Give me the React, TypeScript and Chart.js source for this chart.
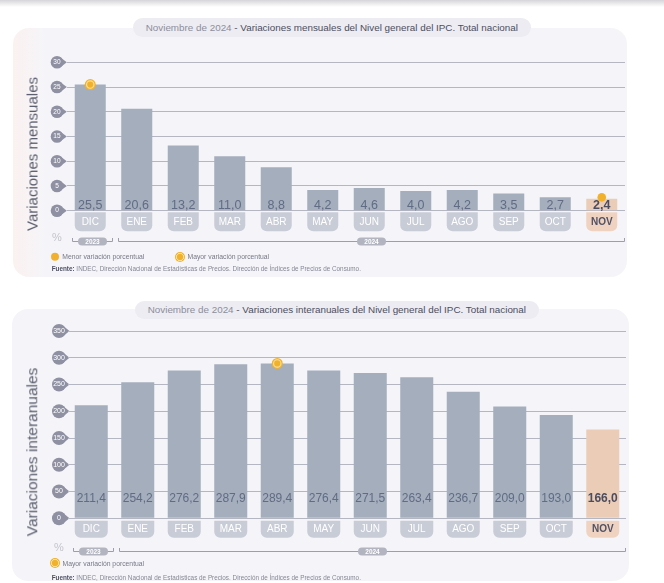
import React, { useEffect, useRef } from 'react';
import { Chart, registerables } from 'chart.js';

Chart.register(...registerables);

const FONT = '"Liberation Sans", Arial, Helvetica, sans-serif';

// ---- data ----
const MONTHS = ['DIC', 'ENE', 'FEB', 'MAR', 'ABR', 'MAY', 'JUN', 'JUL', 'AGO', 'SEP', 'OCT', 'NOV'];
const MONTHLY_VALUES = [25.5, 20.6, 13.2, 11.0, 8.8, 4.2, 4.6, 4.0, 4.2, 3.5, 2.7, 2.4];
const YEARLY_VALUES = [211.4, 254.2, 276.2, 287.9, 289.4, 276.4, 271.5, 263.4, 236.7, 209.0, 193.0, 166.0];
const YEAR_LABELS = ['2023', '2024'];
const YEAR_START = [0, 1];
const YEAR_END = [0, 11];
const MONTHLY_TICKS = { min: 0, max: 30, step: 5 };
const YEARLY_TICKS = { min: 0, max: 350, step: 50 };

// ---- colours ----
const BAR = '#a4aebd';
const BAR_HL = '#ebcdb7';
const TAB = '#c8ccd6';
const TAB_HL = '#efd3c0';
const ORANGE = '#f2b12c';
const VALUE_COLOR = '#616c84';
const VALUE_HL = '#4b4c60';

const fmt = (v: number) => v.toFixed(1).replace('.', ',');

type Cfg = {
  circleX: number;
  circleR: number;
  tabTop: number;
  tabH: number;
  tabR: number;
  bracketDy: number;
  percentDy: number;
  valueSize: number;
  valueDy: number;
  showMin: boolean;
};

function decorPlugin(cfg: Cfg) {
  return {
    id: 'decor',
    beforeDraw(chart: any) {
      const { ctx } = chart;
      const ys = chart.scales.y;
      const xs = chart.scales.x;
      const meta = chart.getDatasetMeta(0);
      const n = meta.data.length;
      const zero = ys.getPixelForValue(0);
      ctx.save();
      // tick badges
      ctx.fillStyle = '#8f91a3';
      ys.ticks.forEach((t: any) => {
        const py = ys.getPixelForValue(t.value);
        const cx = cfg.circleX;
        const r = cfg.circleR;
        ctx.beginPath();
        ctx.arc(cx, py, r, 0, Math.PI * 2);
        ctx.fill();
        ctx.beginPath();
        ctx.moveTo(cx + r * 0.45, py - r * 0.85);
        ctx.lineTo(cx + r + 3.5, py);
        ctx.lineTo(cx + r * 0.45, py + r * 0.85);
        ctx.closePath();
        ctx.fill();
      });
      // category tabs
      meta.data.forEach((el: any, i: number) => {
        const p = el.getProps(['x', 'width'], true);
        ctx.fillStyle = i === n - 1 ? TAB_HL : TAB;
        ctx.beginPath();
        (ctx as any).roundRect(p.x - p.width / 2, zero + cfg.tabTop, p.width, cfg.tabH, [0, 0, cfg.tabR, cfg.tabR]);
        ctx.fill();
      });
      // percent sign
      ctx.fillStyle = '#c3c4cd';
      ctx.font = `11px ${FONT}`;
      ctx.textAlign = 'center';
      ctx.textBaseline = 'middle';
      ctx.fillText('%', cfg.circleX, zero + cfg.percentDy);
      // year brackets
      const step = xs.getPixelForValue(1) - xs.getPixelForValue(0);
      const by = Math.round(zero + cfg.bracketDy) + 0.5;
      YEAR_LABELS.forEach((lab, k) => {
        const l = Math.round(xs.getPixelForValue(YEAR_START[k]) - step / 2 + 4.5) + 0.5;
        const r = Math.round(xs.getPixelForValue(YEAR_END[k]) + step / 2 - 1.5) + 0.5;
        ctx.strokeStyle = '#9c9eab';
        ctx.lineWidth = 1;
        ctx.beginPath();
        ctx.moveTo(l, by - 3.5);
        ctx.lineTo(l, by);
        ctx.lineTo(r, by);
        ctx.lineTo(r, by - 3.5);
        ctx.stroke();
        const pc = (l + r) / 2;
        const pw = 29;
        const ph = 8;
        ctx.fillStyle = '#b2b4c0';
        ctx.beginPath();
        (ctx as any).roundRect(pc - pw / 2, by - ph / 2, pw, ph, ph / 2);
        ctx.fill();
        ctx.fillStyle = '#ffffff';
        ctx.font = `bold 6.5px ${FONT}`;
        ctx.fillText(lab, pc, by + 0.5);
      });
      ctx.restore();
    },
    afterDatasetsDraw(chart: any) {
      const { ctx } = chart;
      const ys = chart.scales.y;
      const meta = chart.getDatasetMeta(0);
      const data: number[] = chart.data.datasets[0].data;
      const n = data.length;
      const zero = ys.getPixelForValue(0);
      ctx.save();
      ctx.textAlign = 'center';
      ctx.textBaseline = 'alphabetic';
      meta.data.forEach((el: any, i: number) => {
        const p = el.getProps(['x'], true);
        const hl = i === n - 1;
        ctx.font = `${hl ? 'bold ' : ''}${cfg.valueSize}px ${FONT}`;
        ctx.fillStyle = hl ? VALUE_HL : VALUE_COLOR;
        ctx.fillText(fmt(data[i]), p.x, zero - cfg.valueDy);
      });
      // markers
      let maxI = 0;
      let minI = 0;
      data.forEach((v, i) => {
        if (v > data[maxI]) maxI = i;
        if (v < data[minI]) minI = i;
      });
      const pMax = meta.data[maxI].getProps(['x', 'y'], true);
      ctx.fillStyle = ORANGE;
      ctx.beginPath();
      ctx.arc(pMax.x, pMax.y, 5.5, 0, Math.PI * 2);
      ctx.fill();
      ctx.strokeStyle = '#fbdf96';
      ctx.lineWidth = 1.2;
      ctx.beginPath();
      ctx.arc(pMax.x, pMax.y, 3.7, 0, Math.PI * 2);
      ctx.stroke();
      if (cfg.showMin) {
        const pMin = meta.data[minI].getProps(['x', 'y'], true);
        ctx.fillStyle = ORANGE;
        ctx.beginPath();
        ctx.arc(pMin.x, pMin.y - 1.5, 4.3, 0, Math.PI * 2);
        ctx.fill();
      }
      ctx.restore();
    },
  };
}

type PanelProps = {
  values: number[];
  ticks: { min: number; max: number; step: number };
  left: number;
  top: number;
  width: number;
  height: number;
  pad: { left: number; right: number; top: number; bottom: number };
  yWidth: number;
  xHeight: number;
  tickFont: number;
  tickPad: number;
  xPad: number;
  barPct: number;
  cfg: Cfg;
};

function BarPanel(props: PanelProps) {
  const ref = useRef<HTMLCanvasElement | null>(null);
  useEffect(() => {
    if (!ref.current) return;
    const n = props.values.length;
    const chart = new Chart(ref.current, {
      type: 'bar',
      data: {
        labels: MONTHS,
        datasets: [
          {
            data: props.values,
            backgroundColor: props.values.map((_, i) => (i === n - 1 ? BAR_HL : BAR)),
            borderWidth: 0,
            barPercentage: props.barPct,
            categoryPercentage: 1,
          },
        ],
      },
      options: {
        animation: false,
        responsive: false,
        events: [],
        layout: { padding: props.pad },
        plugins: { legend: { display: false }, tooltip: { enabled: false } },
        scales: {
          x: {
            grid: { display: false, drawTicks: false },
            border: { display: false },
            ticks: {
              padding: props.xPad,
              autoSkip: false,
              maxRotation: 0,
              color: (c: any) => (c.index === n - 1 ? '#505166' : '#ffffff'),
              font: (c: any) => ({ family: FONT, size: 10, weight: c.index === n - 1 ? 'bold' : 'normal' }),
            },
            afterFit: (s: any) => {
              s.height = props.xHeight;
            },
          },
          y: {
            min: props.ticks.min,
            max: props.ticks.max,
            grid: { color: '#b4b6c1', drawTicks: false, lineWidth: 1 },
            border: { display: false },
            ticks: {
              stepSize: props.ticks.step,
              padding: props.tickPad,
              crossAlign: 'center',
              color: '#ffffff',
              font: { family: FONT, size: props.tickFont },
            },
            afterFit: (s: any) => {
              s.width = props.yWidth;
            },
          },
        },
      },
      plugins: [decorPlugin(props.cfg)],
    } as any);
    return () => chart.destroy();
  }, []);
  return (
    <canvas
      ref={ref}
      width={props.width}
      height={props.height}
      style={{ position: 'absolute', left: props.left, top: props.top, width: props.width, height: props.height }}
    />
  );
}

const TOP_CFG: Cfg = {
  circleX: 45,
  circleR: 6.3,
  tabTop: 1.5,
  tabH: 19,
  tabR: 6,
  bracketDy: 30.3,
  percentDy: 27.6,
  valueSize: 12.5,
  valueDy: 1.8,
  showMin: true,
};

const BOTTOM_CFG: Cfg = {
  circleX: 47,
  circleR: 7,
  tabTop: 2.5,
  tabH: 17,
  tabR: 6,
  bracketDy: 32.7,
  percentDy: 29.4,
  valueSize: 12,
  valueDy: 16,
  showMin: false,
};

function TitlePill(props: { left: number; top: number; text: string }) {
  return (
    <div
      style={{
        position: 'absolute',
        left: props.left,
        top: props.top,
        height: 18.4,
        padding: '0 12.7px',
        borderRadius: 10,
        background: '#ececf2',
        display: 'flex',
        alignItems: 'center',
        whiteSpace: 'nowrap',
        fontSize: 9.85,
        color: '#4d4e5f',
      }}
    >
      <span style={{ color: '#8d8e9c' }}>Noviembre de 2024</span>
      <span>&nbsp;- {props.text}</span>
    </div>
  );
}

function YTitle(props: { x: number; y: number; text: string; size: number }) {
  return (
    <div
      style={{
        position: 'absolute',
        left: props.x,
        top: props.y,
        transform: 'translate(-50%, -50%) rotate(-90deg)',
        whiteSpace: 'nowrap',
        fontSize: props.size,
        color: '#5a5e6e',
        lineHeight: 1,
      }}
    >
      {props.text}
    </div>
  );
}

const dotStyle: React.CSSProperties = {
  display: 'inline-block',
  width: 8.6,
  height: 8.6,
  borderRadius: '50%',
  background: ORANGE,
  marginRight: 3,
};
const ringStyle: React.CSSProperties = {
  display: 'inline-block',
  width: 10,
  height: 10,
  borderRadius: '50%',
  background: `radial-gradient(circle, ${ORANGE} 0 2.9px, #fbdf96 3px 4px, ${ORANGE} 4.1px)`,
  marginRight: 2.5,
};

function LegendItem(props: { x: number; y: number; ring: boolean; text: string }) {
  return (
    <div
      style={{
        position: 'absolute',
        left: props.x,
        top: props.y,
        transform: 'translateY(-50%)',
        display: 'flex',
        alignItems: 'center',
        whiteSpace: 'nowrap',
        fontSize: 6.8,
        color: '#777886',
      }}
    >
      <span style={props.ring ? ringStyle : dotStyle} />
      <span>{props.text}</span>
    </div>
  );
}

function Source(props: { x: number; y: number }) {
  return (
    <div
      style={{
        position: 'absolute',
        left: props.x,
        top: props.y,
        transform: 'translateY(-50%)',
        whiteSpace: 'nowrap',
        fontSize: 6.35,
        color: '#858694',
      }}
    >
      <b style={{ color: '#4f5062' }}>Fuente:</b> INDEC, Dirección Nacional de Estadísticas de Precios. Dirección de Índices de
      Precios de Consumo.
    </div>
  );
}

export default function App() {
  return (
    <div
      style={{
        position: 'absolute',
        left: 0,
        top: 0,
        width: 664,
        height: 583,
        background: '#ffffff',
        overflow: 'hidden',
        fontFamily: FONT,
      }}
    >
      <div
        style={{
          position: 'absolute',
          left: 0,
          top: 0,
          width: 664,
          height: 7,
          background: 'linear-gradient(#d6d6da, rgba(255,255,255,0))',
        }}
      />
      {/* top panel */}
      <div
        style={{
          position: 'absolute',
          left: 12.7,
          top: 28.3,
          width: 614,
          height: 248.4,
          borderRadius: 16,
          background: 'linear-gradient(to right, #fbf1f0 0px, #f5f5f9 32px)',
        }}
      />
      <BarPanel
        values={MONTHLY_VALUES}
        ticks={MONTHLY_TICKS}
        left={12}
        top={28}
        width={615}
        height={249}
        pad={{ left: 0, right: 2, top: 34.3, bottom: 36.3 }}
        yWidth={55}
        xHeight={30}
        tickFont={6.5}
        tickPad={6.4}
        xPad={5.3}
        barPct={0.667}
        cfg={TOP_CFG}
      />
      <TitlePill left={133} top={18.3} text="Variaciones mensuales del Nivel general del IPC. Total nacional" />
      <YTitle x={32} y={153.5} text="Variaciones mensuales" size={15} />
      <LegendItem x={50.7} y={256.7} ring={false} text="Menor variación porcentual" />
      <LegendItem x={175} y={256.7} ring={true} text="Mayor variación porcentual" />
      <Source x={51.7} y={268.3} />

      {/* bottom panel */}
      <div
        style={{
          position: 'absolute',
          left: 12,
          top: 309.3,
          width: 617,
          height: 272,
          borderRadius: 16,
          background: '#f5f5f9',
        }}
      />
      <BarPanel
        values={YEARLY_VALUES}
        ticks={YEARLY_TICKS}
        left={12}
        top={309}
        width={617}
        height={274}
        pad={{ left: 0, right: 3, top: 22, bottom: 34.7 }}
        yWidth={56}
        xHeight={30}
        tickFont={7}
        tickPad={3.15}
        xPad={5.2}
        barPct={0.71}
        cfg={BOTTOM_CFG}
      />
      <TitlePill left={135} top={300.7} text="Variaciones interanuales del Nivel general del IPC. Total nacional" />
      <YTitle x={32} y={451.5} text="Variaciones interanuales" size={15.5} />
      <LegendItem x={50} y={563} ring={true} text="Mayor variación porcentual" />
      <Source x={51.7} y={577} />
    </div>
  );
}
